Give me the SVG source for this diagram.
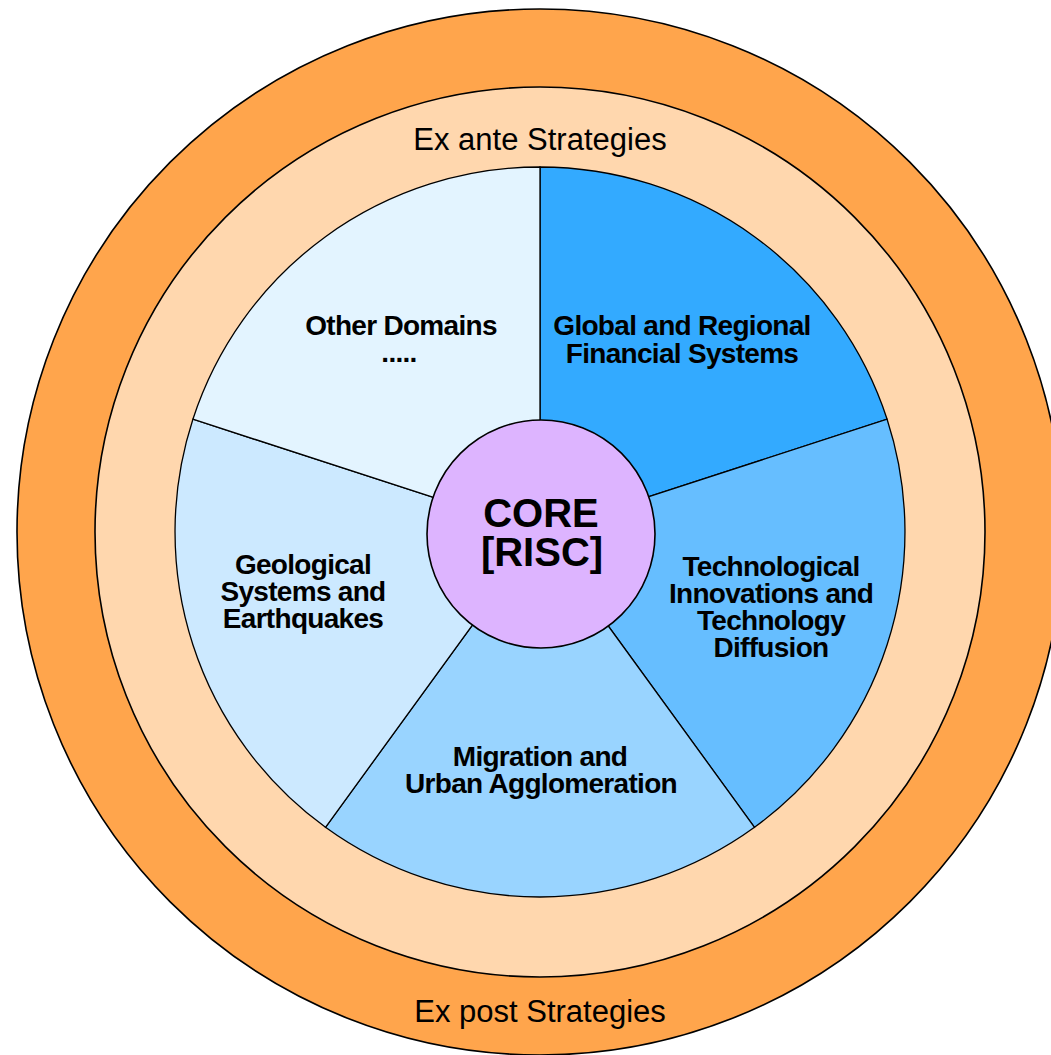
<svg xmlns="http://www.w3.org/2000/svg" width="1051" height="1055" viewBox="0 0 1051 1055">
<style>
.ring{stroke:#000;stroke-width:1.6}
.slice{stroke:#000;stroke-width:1.3}
.lbl{font-family:"Liberation Sans",Arial,sans-serif;font-weight:bold;font-size:28px;letter-spacing:-0.7px;text-anchor:middle;fill:#000}
.ring-lbl{font-family:"Liberation Sans",Arial,sans-serif;font-size:31px;text-anchor:middle;fill:#000}
.core-lbl{font-family:"Liberation Sans",Arial,sans-serif;font-weight:bold;font-size:40px;text-anchor:middle;fill:#000}
</style>
<rect width="1051" height="1055" fill="#fff"/>
<g id="ex-post-ring">
<circle class="ring" cx="540" cy="532" r="523" fill="#FFA54C"/>
<text class="ring-lbl" x="540" y="1022">Ex post Strategies</text>
</g>
<g id="ex-ante-ring">
<circle class="ring" cx="540" cy="532" r="445" fill="#FFD7AE"/>
<text class="ring-lbl" x="540" y="150">Ex ante Strategies</text>
</g>
<g id="global-financial">
<path class="slice" d="M540 532 L540 167 A365 365 0 0 1 887.1 419.2 Z" fill="#33AAFF"/>
<text class="lbl"><tspan x="682" y="335">Global and Regional</tspan><tspan x="682" y="363">Financial Systems</tspan></text>
</g>
<g id="technological">
<path class="slice" d="M540 532 L887.1 419.2 A365 365 0 0 1 754.5 827.3 Z" fill="#66BEFF"/>
<text class="lbl"><tspan x="771" y="576">Technological</tspan><tspan x="771" y="603">Innovations and</tspan><tspan x="771" y="630">Technology</tspan><tspan x="771" y="657">Diffusion</tspan></text>
</g>
<g id="migration">
<path class="slice" d="M540 532 L754.5 827.3 A365 365 0 0 1 325.5 827.3 Z" fill="#99D4FF"/>
<text class="lbl"><tspan x="540" y="766">Migration and</tspan><tspan x="541" y="793">Urban Agglomeration</tspan></text>
</g>
<g id="geological">
<path class="slice" d="M540 532 L325.5 827.3 A365 365 0 0 1 192.9 419.2 Z" fill="#CCE9FF"/>
<text class="lbl"><tspan x="303" y="574">Geological</tspan><tspan x="303" y="601">Systems and</tspan><tspan x="303" y="628">Earthquakes</tspan></text>
</g>
<g id="other-domains">
<path class="slice" d="M540 532 L192.9 419.2 A365 365 0 0 1 540 167 Z" fill="#E3F4FF"/>
<text class="lbl"><tspan x="401" y="335">Other Domains</tspan><tspan x="399" y="362">.....</tspan></text>
</g>
<g id="core">
<circle class="ring" cx="541" cy="534" r="114" fill="#DDB4FF"/>
<text class="core-lbl"><tspan x="541" y="527">CORE</tspan><tspan x="542" y="566">[RISC]</tspan></text>
</g>
</svg>
